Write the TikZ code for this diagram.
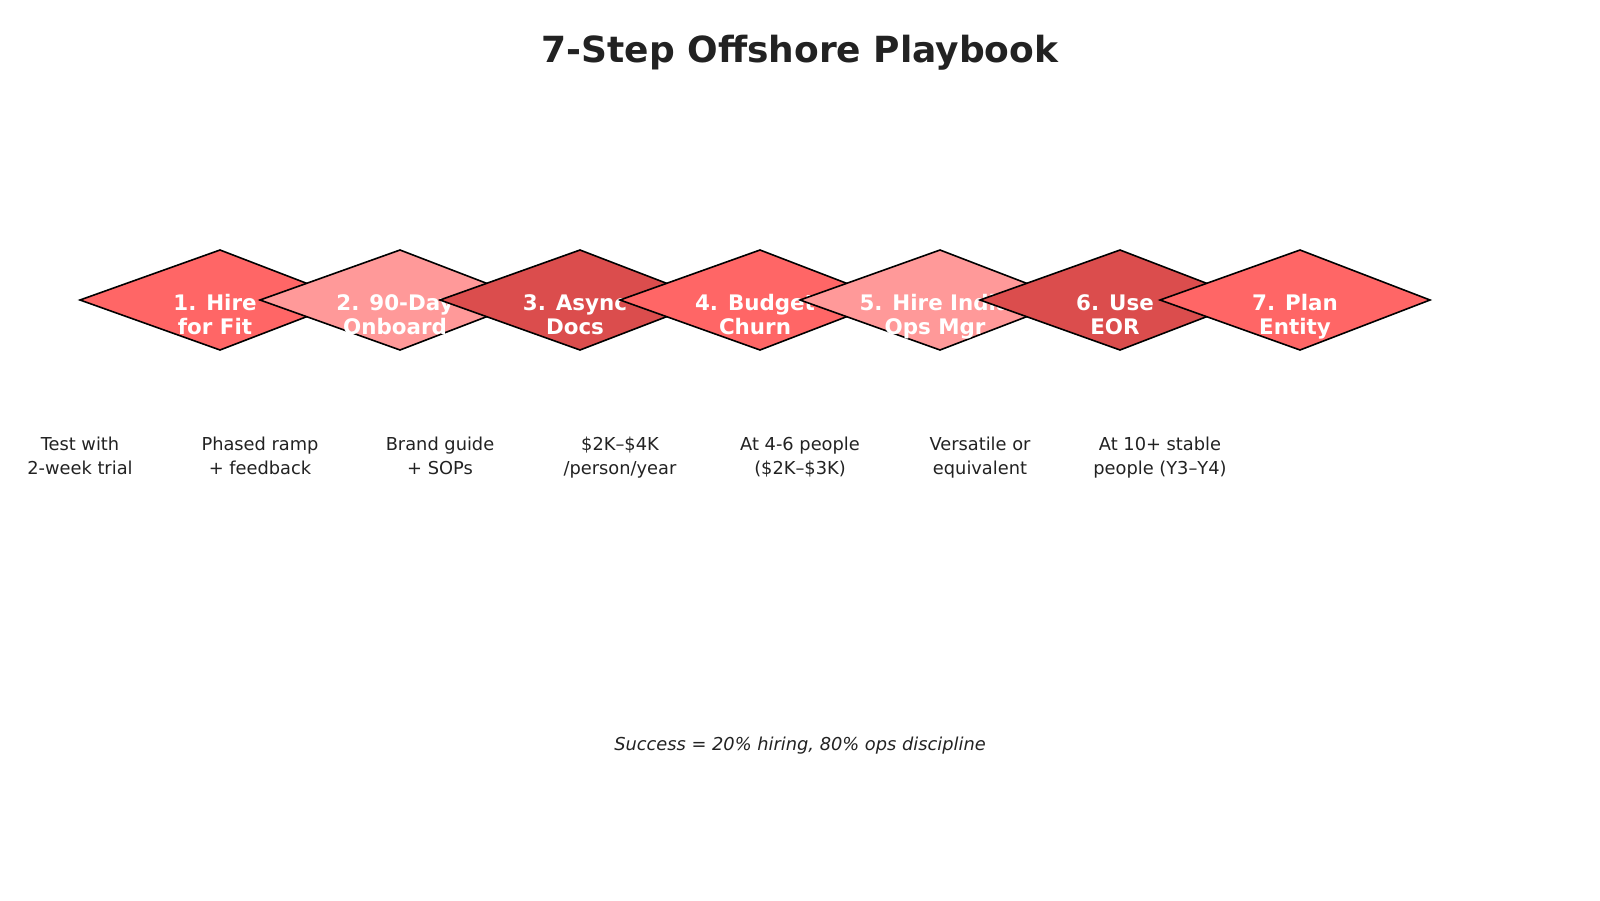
\documentclass[tikz,border=0pt]{standalone}
\usepackage{fontspec}
\setmainfont{DejaVu Sans}
\definecolor{cA}{HTML}{FF6666}
\definecolor{cB}{HTML}{FF9999}
\definecolor{cC}{HTML}{DB4D4D}
\definecolor{ink}{HTML}{222222}
\newcommand\stepdiamond[2]{%
  \filldraw[stepshape, fill=#2] ({#1-140},300) -- (#1,250) -- ({#1+130},300) -- (#1,350) -- cycle;}
\begin{document}
\begin{tikzpicture}[x=1pt,y=-1pt,
  stepshape/.style={draw=black, line width=1.6pt, line join=miter},
  steptext/.style={text=white, font=\fontsize{21.4}{24.5}\selectfont\bfseries, align=center, inner sep=0pt, anchor=base},
  note/.style={text=ink, font=\fontsize{17.8}{24}\selectfont, align=center, inner sep=0pt, anchor=base},
]
\useasboundingbox (0,0) rectangle (1600,900);
\node[text=ink, font=\fontsize{36}{40}\selectfont\bfseries, inner sep=0pt, anchor=base] (title) at (800,62) {7-Step Offshore Playbook};

\stepdiamond{220}{cA}
\node[steptext] (t1) at (215,334.5) {1. Hire\\for Fit};
\stepdiamond{400}{cB}
\node[steptext] (t2) at (395,334.5) {2. 90-Day\\Onboard};
\stepdiamond{580}{cC}
\node[steptext] (t3) at (575,334.5) {3. Async\\Docs};
\stepdiamond{760}{cA}
\node[steptext] (t4) at (755,334.5) {4. Budget\\Churn};
\stepdiamond{940}{cB}
\node[steptext] (t5) at (935,334.5) {5. Hire India\\Ops Mgr};
\stepdiamond{1120}{cC}
\node[steptext] (t6) at (1115,334.5) {6. Use\\EOR};
\stepdiamond{1300}{cA}
\node[steptext] (t7) at (1295,334.5) {7. Plan\\Entity};

\node[note] (l1) at (80,474) {Test with\\2-week trial};
\node[note] (l2) at (260,474) {Phased ramp\\+ feedback};
\node[note] (l3) at (440,474) {Brand guide\\+ SOPs};
\node[note] (l4) at (620,474) {\$2K–\$4K\\/person/year};
\node[note] (l5) at (800,474) {At 4-6 people\\(\$2K–\$3K)};
\node[note] (l6) at (980,474) {Versatile or\\equivalent};
\node[note] (l7) at (1160,474) {At 10+ stable\\people (Y3–Y4)};

\node[text=ink, font=\fontsize{17.8}{24}\selectfont\itshape, inner sep=0pt, anchor=base] (foot) at (800,750) {Success = 20\% hiring, 80\% ops discipline};
\end{tikzpicture}
\end{document}
